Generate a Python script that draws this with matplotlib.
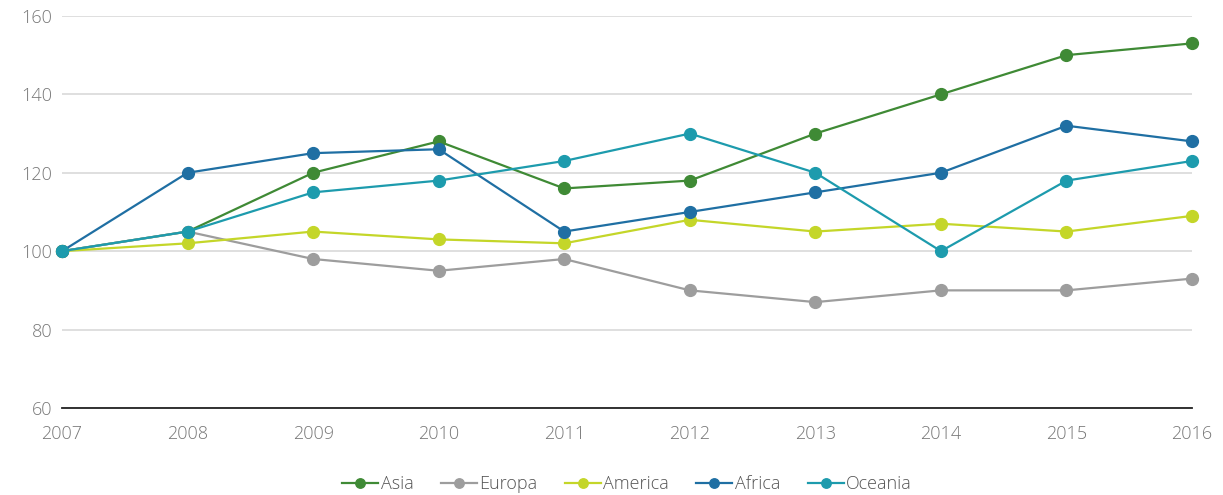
import matplotlib.pyplot as plt

plt.rcParams['font.family'] = ['Open Sans', 'DejaVu Sans']

years = [2007, 2008, 2009, 2010, 2011, 2012, 2013, 2014, 2015, 2016]
asia = [100, 105, 120, 128, 116, 118, 130, 140, 150, 153]
europa = [100, 105, 98, 95, 98, 90, 87, 90, 90, 93]
america = [100, 102, 105, 103, 102, 108, 105, 107, 105, 109]
africa = [100, 120, 125, 126, 105, 110, 115, 120, 132, 128]
oceania = [100, 105, 115, 118, 123, 130, 120, 100, 118, 123]

series = [
    ('Asia', asia, '#3f8a35'),
    ('Europa', europa, '#9d9d9d'),
    ('America', america, '#c4d629'),
    ('Africa', africa, '#1f6fa3'),
    ('Oceania', oceania, '#1d9bad'),
]

fig = plt.figure(figsize=(12.23, 4.95), dpi=100)
ax = fig.add_axes([0.0507, 0.1758, 0.924, 0.792])

for name, vals, col in series:
    ax.plot(years, vals, color=col, lw=1.6, marker='o', ms=8.5, label=name, clip_on=False, zorder=3)

ax.set_xlim(2007, 2016)
ax.set_ylim(60, 160)
ax.set_xticks(years)
ax.set_yticks([60, 80, 100, 120, 140, 160])
ax.grid(axis='y', color='#d9d9d9', lw=1.2)
ax.set_axisbelow(True)
for s in ['left', 'right', 'top']:
    ax.spines[s].set_visible(False)
ax.spines['bottom'].set_color('#222222')
ax.spines['bottom'].set_linewidth(1.3)
ax.tick_params(length=0, labelsize=13, labelcolor='#777777')
ax.tick_params(axis='x', pad=12)
ax.tick_params(axis='y', pad=7)
for lab in ax.get_xticklabels() + ax.get_yticklabels():
    lab.set_fontweight('light')

leg = ax.legend(loc='center', bbox_to_anchor=(0.5, -0.195), ncol=5, frameon=False,
                fontsize=13, labelcolor='#555555', handlelength=2.0, handletextpad=0.15,
                columnspacing=1.5, markerscale=0.8)
for t in leg.get_texts():
    t.set_fontweight('light')

fig.savefig('out.png', dpi=100)
